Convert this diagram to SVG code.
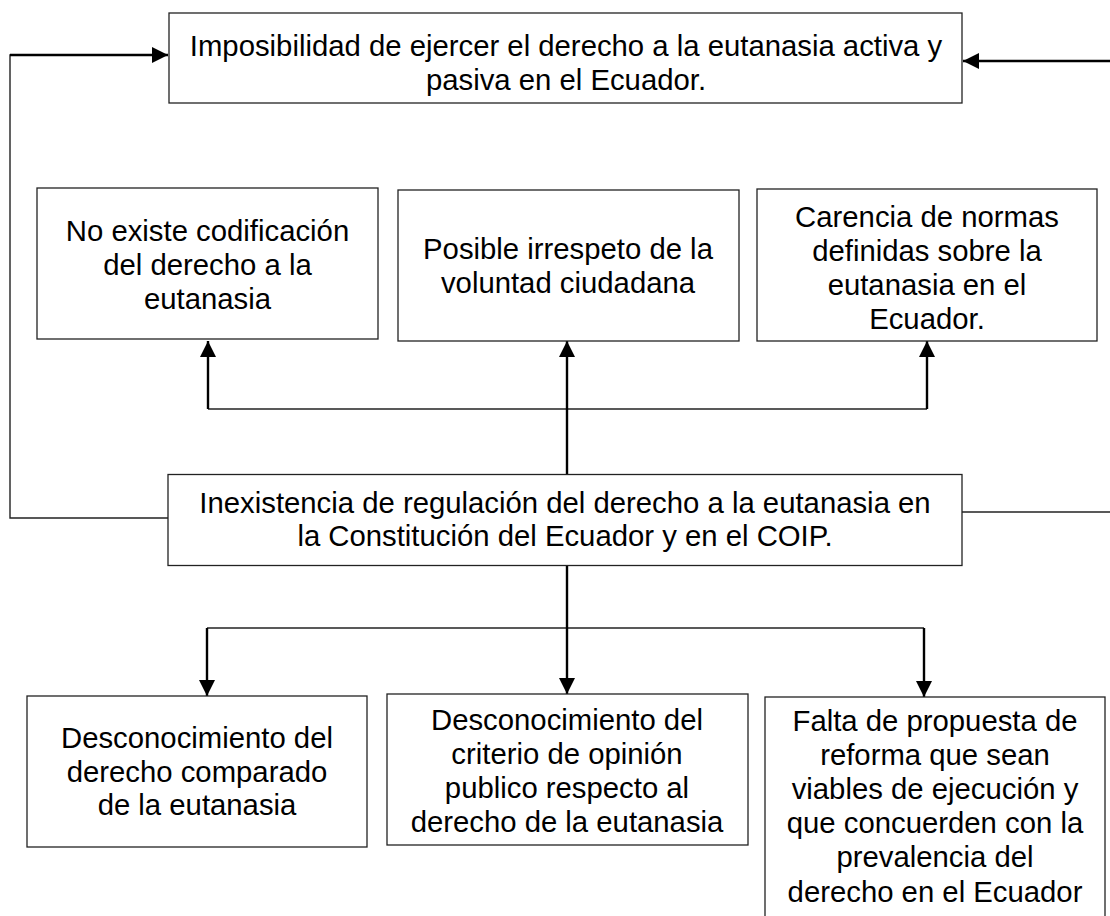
<svg xmlns="http://www.w3.org/2000/svg" width="1110" height="916" viewBox="0 0 1110 916">
<defs>
<style>
.box{fill:#fff;stroke:#222;stroke-width:1.3}
.t{font-family:"Liberation Sans",Arial,sans-serif;font-size:29.3px;fill:#000;text-anchor:middle}
.ln{fill:none;stroke:#222;stroke-width:1.4}
.ar{fill:none;stroke:#000;stroke-width:2.4}
</style>
<marker id="ah" viewBox="0 0 10 10" refX="10" refY="5" markerWidth="16" markerHeight="16" markerUnits="userSpaceOnUse" orient="auto">
<path d="M0,0 L10,5 L0,10 Z" fill="#000"/>
</marker>
</defs>
<rect width="1110" height="916" fill="#fff"/>

<g id="connectors">
<polyline class="ln" points="168,518 10,518 10,55 40,55"/>
<line class="ar" x1="10" y1="55" x2="168" y2="55" marker-end="url(#ah)"/>
<line class="ln" x1="962" y1="512" x2="1110" y2="512"/>
<line class="ar" x1="1110" y1="61" x2="963" y2="61" marker-end="url(#ah)"/>
<line class="ln" x1="208" y1="409" x2="927" y2="409"/>
<line class="ar" x1="208" y1="409" x2="208" y2="341" marker-end="url(#ah)"/>
<line class="ar" x1="567" y1="475" x2="567" y2="341" marker-end="url(#ah)"/>
<line class="ar" x1="927" y1="409" x2="927" y2="341" marker-end="url(#ah)"/>
<line class="ln" x1="207" y1="628" x2="924" y2="628"/>
<line class="ar" x1="207" y1="628" x2="207" y2="696" marker-end="url(#ah)"/>
<line class="ar" x1="567" y1="565" x2="567" y2="694" marker-end="url(#ah)"/>
<line class="ar" x1="924" y1="628" x2="924" y2="697" marker-end="url(#ah)"/>
</g>

<g id="n-top">
<rect class="box" x="169" y="13" width="793" height="90"/>
<text class="t" x="566" y="56">Imposibilidad de ejercer el derecho a la eutanasia activa y</text>
<text class="t" x="566" y="90">pasiva en el Ecuador.</text>
</g>

<g id="n-a">
<rect class="box" x="37" y="188" width="341" height="151"/>
<text class="t" x="207.5" y="241">No existe codificación</text>
<text class="t" x="207.5" y="275">del derecho a la</text>
<text class="t" x="207.5" y="308.5">eutanasia</text>
</g>

<g id="n-b">
<rect class="box" x="398" y="190" width="341" height="151"/>
<text class="t" x="568" y="259">Posible irrespeto de la</text>
<text class="t" x="568" y="293">voluntad ciudadana</text>
</g>

<g id="n-c">
<rect class="box" x="757" y="189" width="340" height="152"/>
<text class="t" x="927" y="227">Carencia de normas</text>
<text class="t" x="927" y="261">definidas sobre la</text>
<text class="t" x="927" y="295">eutanasia en el</text>
<text class="t" x="927" y="329">Ecuador.</text>
</g>

<g id="n-center">
<rect class="box" x="168" y="474.5" width="794" height="91"/>
<text class="t" x="565" y="513">Inexistencia de regulación del derecho a la eutanasia en</text>
<text class="t" x="565" y="546">la Constitución del Ecuador y en el COIP.</text>
</g>

<g id="n-d">
<rect class="box" x="27" y="696" width="340" height="151"/>
<text class="t" x="197" y="748">Desconocimiento del</text>
<text class="t" x="197" y="781.5">derecho comparado</text>
<text class="t" x="197" y="815">de la eutanasia</text>
</g>

<g id="n-e">
<rect class="box" x="387" y="694" width="361" height="151"/>
<text class="t" x="567" y="730">Desconocimiento del</text>
<text class="t" x="567" y="764">criterio de opinión</text>
<text class="t" x="567" y="798">publico respecto al</text>
<text class="t" x="567" y="832">derecho de la eutanasia</text>
</g>

<g id="n-f">
<rect class="box" x="765" y="697" width="340" height="240"/>
<text class="t" x="935" y="731">Falta de propuesta de</text>
<text class="t" x="935" y="765">reforma que sean</text>
<text class="t" x="935" y="799">viables de ejecución y</text>
<text class="t" x="935" y="833">que concuerden con la</text>
<text class="t" x="935" y="867">prevalencia del</text>
<text class="t" x="935" y="902">derecho en el Ecuador</text>
</g>
</svg>
